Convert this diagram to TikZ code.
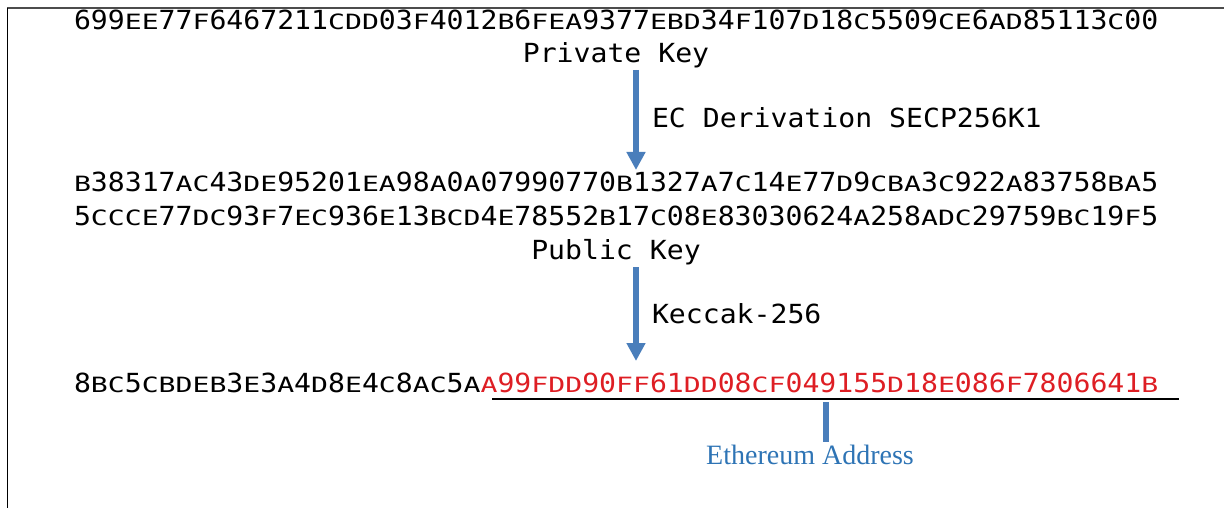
\documentclass[tikz,border=0pt]{standalone}
\usepackage{fontspec}
\setmainfont{Liberation Serif}
\newfontfamily\hexfont[FakeStretch=1.07]{DejaVu Sans Mono}
\usepackage{graphicx}
\usetikzlibrary{arrows.meta}
\definecolor{arrowblue}{RGB}{74,126,187}
\definecolor{addrblue}{RGB}{46,116,181}
\definecolor{addrred}{RGB}{222,30,36}
\newlength\hexcw
\def\hexstr#1{\settowidth\hexcw{0}\hexloop#1\relax}
\def\hexloop#1{\ifx#1\relax\else\hexchar{#1}\expandafter\hexloop\fi}
\def\hexchar#1{\ifnum`#1>64 \makebox[\hexcw][c]{\scalebox{1}[0.8]{#1}}\else #1\fi}
\tikzset{
  monotext/.style={inner sep=0pt, outer sep=0pt, font=\hexfont\fontsize{26.3}{31}\selectfont, text=black},
  flowarrow/.style={draw=arrowblue, line width=6.5pt, -{Triangle[width=18pt,length=18pt]}, fill=arrowblue},
  addrlabel/.style={inner sep=0pt, outer sep=0pt, font=\fontsize{28}{32}\selectfont, text=addrblue}
}
\begin{document}
\begin{tikzpicture}[x=1pt,y=-1pt]
\useasboundingbox (0,0) rectangle (1224,508);
% frame
\draw[line width=1.4pt, black!70] (7,8) -- (1224,8);
\draw[line width=1.8pt, black] (7.5,8) -- (7.5,508);
% private key
\node[monotext, anchor=base west] (priv) at (74,30) {\hexstr{699EE77F6467211CDD03F4012B6FEA9377EBD34F107D18C5509CE6AD85113C00}};
\node[monotext, anchor=base] (privlbl) at (616,63) {Private Key};
% derivation arrow
\coordinate (a1top) at (636,70);
\coordinate (a1tip) at (636,170);
\draw[flowarrow] (a1top) -- (a1tip);
\node[monotext, anchor=base west] (ecd) at (652,128) {EC Derivation SECP256K1};
% public key
\node[monotext, anchor=base west] (pub1) at (74,192) {\hexstr{B38317AC43DE95201EA98A0A07990770B1327A7C14E77D9CBA3C922A83758BA5}};
\node[monotext, anchor=base west] (pub2) at (74,225) {\hexstr{5CCCE77DC93F7EC936E13BCD4E78552B17C08E83030624A258ADC29759BC19F5}};
\node[monotext, anchor=base] (publbl) at (616,259) {Public Key};
% keccak arrow
\coordinate (a2top) at (636,267);
\coordinate (a2tip) at (636,361);
\draw[flowarrow] (a2top) -- (a2tip);
\node[monotext, anchor=base west] (kec) at (652,323) {Keccak-256};
% hash / address
\node[monotext, anchor=base west] (hash) at (74,392) {\hexstr{8BC5CBDEB3E3A4D8E4C8AC5A}\textcolor{addrred}{\hexstr{A99FDD90FF61DD08CF049155D18E086F7806641B}}};
\coordinate (ulstart) at (492,399);
\coordinate (ulend) at (1179,399);
\draw[line width=2pt, black] (ulstart) -- (ulend);
\coordinate (bartop) at (826,402);
\coordinate (barbot) at (826,442);
\draw[line width=6pt, arrowblue] (bartop) -- (barbot);
\node[addrlabel, anchor=base] (ethaddr) at (810,464) {Ethereum Address};
\end{tikzpicture}
\end{document}
